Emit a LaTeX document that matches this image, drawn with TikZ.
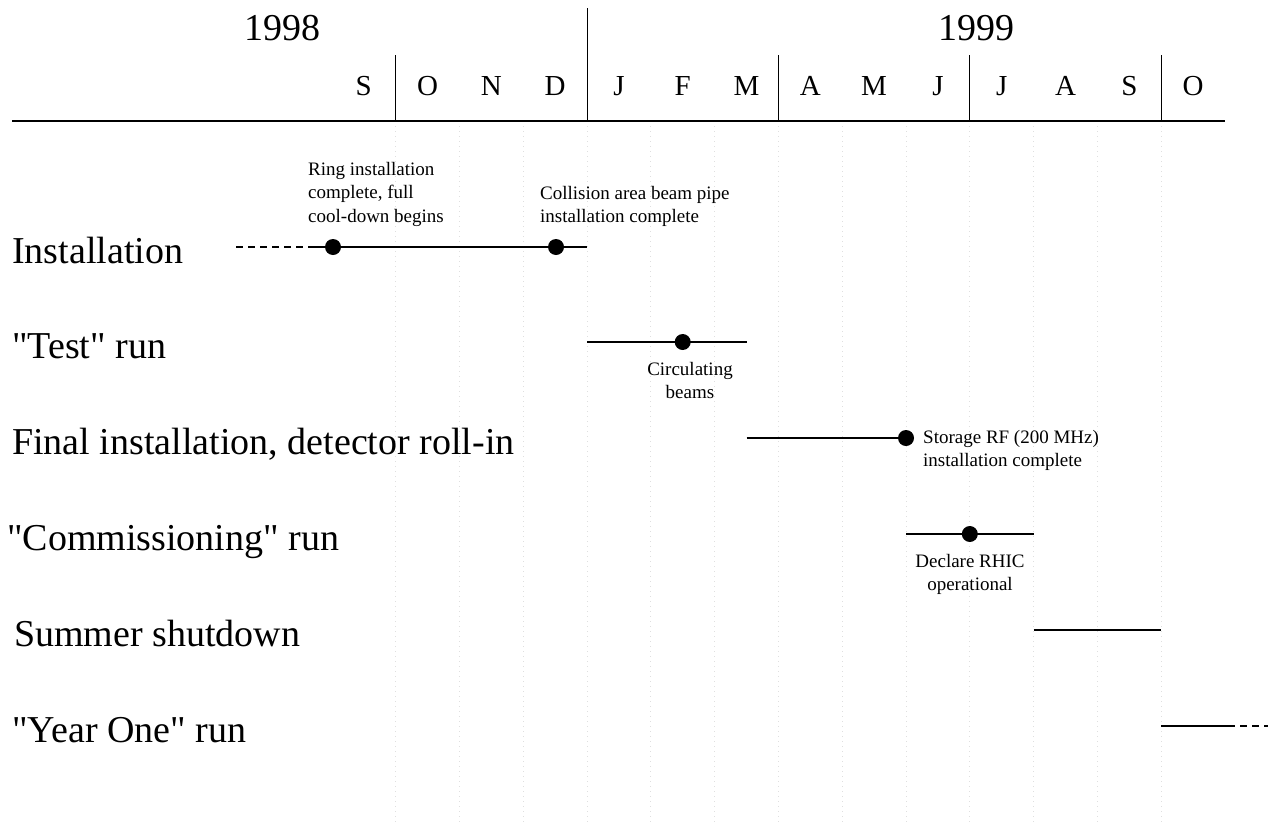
\documentclass[tikz,border=0pt]{standalone}
\usepackage{fontspec}
\setmainfont{Liberation Serif}
\tikzset{
  bar/.style={line width=1.8pt},
  milestone/.style={circle,fill=black,inner sep=0pt,minimum size=16pt},
  rowlabel/.style={anchor=base west,inner sep=0pt,font=\fontsize{38}{44}\selectfont},
  note/.style={inner sep=0pt,font=\fontsize{19}{23.5}\selectfont},
  monthgrid/.style={gray!25,line width=0.8pt,dash pattern=on 1pt off 4pt}
}
\begin{document}
\begin{tikzpicture}[x=1pt,y=-1pt]
  \useasboundingbox (0,0) rectangle (1268,822);
  % month grid
  \foreach \m in {1,...,13}
    \draw[monthgrid] (331.8+63.8*\m,121) -- (331.8+63.8*\m,822);
  % header
  \draw[line width=1.8pt] (12,121) -- (1225,121);
  \draw[line width=1pt] (587,8) -- (587,121);
  \foreach \m in {1,7,10,13}
    \draw[line width=1pt] (331.8+63.8*\m,55) -- (331.8+63.8*\m,121);
  \node[anchor=base,font=\fontsize{38}{40}\selectfont] (y98) at (282,40) {1998};
  \node[anchor=base,font=\fontsize{38}{40}\selectfont] (y99) at (976,40) {1999};
  \foreach \l [count=\i from 0] in {S,O,N,D,J,F,M,A,M,J,J,A,S,O}
    \node[anchor=base,font=\fontsize{29}{32}\selectfont] (mon\i) at (363.7+63.8*\i,95) {\l};

  % rows
  \node[rowlabel] (install) at (12,263) {Installation};
  \node[rowlabel] (testrun) at (12,358) {\textquotedbl Test\textquotedbl{} run};
  \node[rowlabel] (finalinst) at (12,454) {Final installation, detector roll-in};
  \node[rowlabel] (commrun) at (7,550) {\textquotedbl Commissioning\textquotedbl{} run};
  \node[rowlabel] (summer) at (14,646) {Summer shutdown};
  \node[rowlabel] (yearone) at (12,742) {\textquotedbl Year One\textquotedbl{} run};

  % installation
  \coordinate (inst-s) at (236,247);
  \coordinate (inst-m) at (310,247);
  \coordinate (inst-e) at (587,247);
  \node[milestone] (ringdone) at (333,247) {};
  \node[milestone] (pipedone) at (556,247) {};
  \draw[bar,dash pattern=on 7pt off 5pt] (inst-s) -- (inst-m);
  \draw[bar] (inst-m) -- (inst-e);
  \node[note,anchor=north west,align=left] (ringnote) at (308,162)
    {Ring installation\\complete, full\\cool-down begins};
  \node[note,anchor=north west,align=left] (pipenote) at (540,186)
    {Collision area beam pipe\\installation complete};

  % test run
  \coordinate (test-s) at (587,342);
  \coordinate (test-e) at (746.5,342);
  \node[milestone] (beams) at (682.7,342) {};
  \draw[bar] (test-s) -- (test-e);
  \node[note,anchor=north,align=center] (beamnote) at (690,362) {Circulating\\beams};

  % final installation
  \coordinate (fin-s) at (746.5,438);
  \node[milestone] (rfdone) at (906,438) {};
  \draw[bar] (fin-s) -- (rfdone);
  \node[note,anchor=north west,align=left] (rfnote) at (923,430)
    {Storage RF (200 MHz)\\installation complete};

  % commissioning
  \coordinate (comm-s) at (906,534);
  \coordinate (comm-e) at (1033.6,534);
  \node[milestone] (operational) at (969.8,534) {};
  \draw[bar] (comm-s) -- (comm-e);
  \node[note,anchor=north,align=center] (opnote) at (970,554) {Declare RHIC\\operational};

  % shutdown and year one
  \coordinate (sum-s) at (1033.6,630);
  \coordinate (sum-e) at (1161.2,630);
  \draw[bar] (sum-s) -- (sum-e);
  \coordinate (yr-s) at (1161.2,726);
  \coordinate (yr-m) at (1228,726);
  \coordinate (yr-e) at (1268,726);
  \draw[bar] (yr-s) -- (yr-m);
  \draw[bar,dash pattern=on 7pt off 5pt] (yr-m) -- (yr-e);
\end{tikzpicture}
\end{document}
